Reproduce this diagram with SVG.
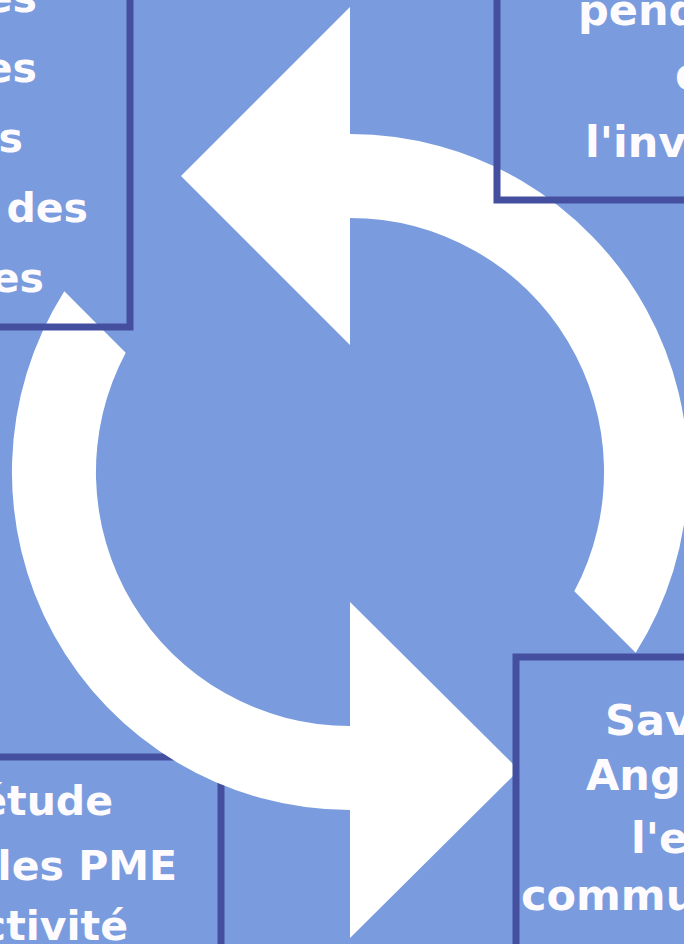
<svg xmlns="http://www.w3.org/2000/svg" width="684" height="944" viewBox="0 0 684 944">
  <style>
    .box { fill: none; stroke: #454FA0; stroke-width: 7; }
    .ring { fill: #FFFFFF; stroke: none; }
    .t { font-family: "DejaVu Sans", "Liberation Sans", sans-serif; font-weight: bold; font-size: 41px; fill: #FDFBFE; }
    .tr { font-size: 43px; }
  </style>
  <rect x="0" y="0" width="684" height="944" fill="#7A9CDE"/>

  <g id="node-bottom-left">
    <rect class="box" x="-10" y="757" width="231" height="220"/>
  </g>

  <g id="connectors">
    <path class="ring" d="M 350 134 A 338 338 0 0 1 635.7 652.7 L 574.3 591.3 A 254 254 0 0 0 350 218 Z"/>
    <polygon class="ring" points="350,7 181,176 350,345"/>
    <path class="ring" d="M 350 810 A 338 338 0 0 1 64.3 291.3 L 125.7 352.7 A 254 254 0 0 0 350 726 Z"/>
    <polygon class="ring" points="350,602 519,770 350,938"/>
  </g>

  <g id="node-top-left">
    <rect class="box" x="-10" y="-10" width="140" height="337"/>
    <text class="t" text-anchor="end" x="37" y="12">es</text>
    <text class="t" text-anchor="end" x="37" y="82">es</text>
    <text class="t" text-anchor="end" x="23" y="152">s</text>
    <text class="t" text-anchor="end" x="88" y="222">des</text>
    <text class="t" text-anchor="end" x="44" y="292">es</text>
  </g>

  <g id="node-top-right">
    <rect class="box" x="497" y="-10" width="220" height="210"/>
    <text class="t tr" x="578" y="25">pend</text>
    <text class="t tr" x="675" y="89">d</text>
    <text class="t tr" x="585" y="157">l'inv</text>
  </g>

  <g id="node-bottom-right">
    <rect class="box" x="516" y="657" width="220" height="320"/>
    <text class="t tr" x="605" y="735">Sav</text>
    <text class="t tr" x="586" y="790">Ang</text>
    <text class="t tr" x="631" y="853">l'ex</text>
    <text class="t tr" x="521" y="910">commu</text>
  </g>

  <g id="node-bottom-left-text">
    <text class="t" text-anchor="end" x="113" y="815">étude</text>
    <text class="t" text-anchor="end" x="177" y="880">les PME</text>
    <text class="t" text-anchor="end" x="128" y="940">ctivité</text>
  </g>
</svg>
